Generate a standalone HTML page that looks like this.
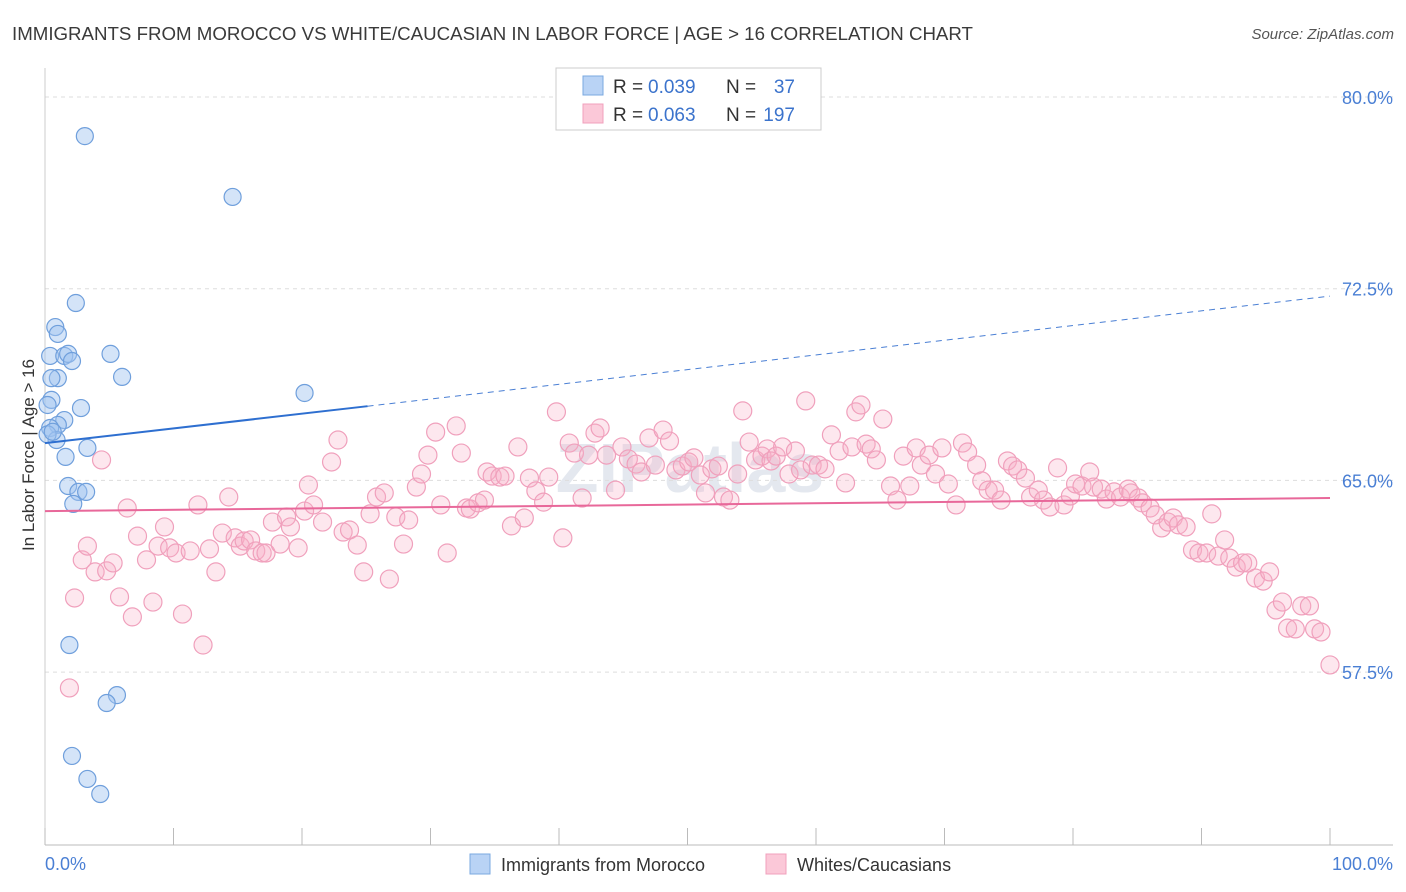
<!DOCTYPE html>
<html><head><meta charset="utf-8">
<style>
body{margin:0;background:#fff;font-family:"Liberation Sans",sans-serif;}
svg{display:block}
</style></head>
<body>
<svg id="chart" width="1406" height="892" xmlns="http://www.w3.org/2000/svg" font-family="Liberation Sans, sans-serif">
<text x="12" y="40" font-size="18.7" fill="#3a3a3a">IMMIGRANTS FROM MOROCCO VS WHITE/CAUCASIAN IN LABOR FORCE | AGE &gt; 16 CORRELATION CHART</text>
<text x="1394" y="39" font-size="15" fill="#555" font-style="italic" text-anchor="end">Source: ZipAtlas.com</text>
<text x="690" y="492" font-size="70" fill="#e4e8ef" text-anchor="middle" font-weight="bold">ZIPatlas</text>
<g id="grid"></g>
<g id="axes"></g>
<g id="marks"></g>
<text transform="translate(34,455) rotate(-90)" font-size="17" fill="#333" text-anchor="middle">In Labor Force | Age &gt; 16</text>
<g>
<rect x="556" y="68" width="265" height="62" fill="#fff" stroke="#ccc"/>
<rect x="583" y="76" width="20" height="19" fill="#b9d3f5" stroke="#7aa8e0"/>
<rect x="583" y="104" width="20" height="19" fill="#fbc8d8" stroke="#f0a0bc"/>
<text x="613" y="93" font-size="19" fill="#333">R =</text>
<text x="648" y="93" font-size="19" fill="#3b73cc">0.039</text>
<text x="726" y="93" font-size="19" fill="#333">N =</text>
<text x="795" y="93" font-size="19" fill="#3b73cc" text-anchor="end">37</text>
<text x="613" y="121" font-size="19" fill="#333">R =</text>
<text x="648" y="121" font-size="19" fill="#3b73cc">0.063</text>
<text x="726" y="121" font-size="19" fill="#333">N =</text>
<text x="795" y="121" font-size="19" fill="#3b73cc" text-anchor="end">197</text>
</g>
<g>
<rect x="470" y="854" width="20" height="20" fill="#b9d3f5" stroke="#7aa8e0"/>
<text x="501" y="871" font-size="18" fill="#333">Immigrants from Morocco</text>
<rect x="766" y="854" width="20" height="20" fill="#fbc8d8" stroke="#f0a0bc"/>
<text x="797" y="871" font-size="18" fill="#333">Whites/Caucasians</text>
</g>
</svg>
<script>
const yTicks=[57.5,65.0,72.5,80.0];
const xTickCount=10;
const blueX=[3.1,14.6,2.4,0.8,1.0,0.4,1.5,1.8,2.1,5.1,1.0,0.5,6.0,20.2,0.5,0.2,2.8,1.5,1.0,0.4,0.9,3.3,1.6,1.8,2.6,3.2,2.2,1.9,5.6,4.8,2.1,3.3,4.3,0.2,0.6];
const blueY=[78.47,76.09,71.94,71.0,70.73,69.87,69.87,69.95,69.67,69.95,69.0,69.0,69.05,68.42,68.15,67.95,67.83,67.36,67.17,67.05,66.58,66.27,65.92,64.78,64.55,64.55,64.08,58.56,56.6,56.29,54.22,53.32,52.73,66.8,66.9];
const pinkX=[1.9,2.3,4.4,2.9,3.3,3.9,4.8,5.3,5.8,6.4,6.8,7.2,7.9,8.4,8.8,9.3,9.7,10.2,10.7,11.3,11.9,12.3,12.8,13.3,13.8,14.3,14.8,15.2,15.5,16.0,16.4,16.9,17.2,17.7,18.3,18.8,19.1,19.7,20.2,20.5,20.9,21.6,22.3,22.8,23.2,23.7,24.3,24.8,25.3,25.8,26.4,26.8,27.3,27.9,28.3,28.9,29.3,29.8,30.4,30.8,31.3,32.0,32.4,32.8,33.1,33.7,34.2,34.4,34.8,35.4,35.8,36.3,36.8,37.3,37.7,38.2,38.8,39.2,39.8,40.3,40.8,41.2,41.8,42.3,42.8,43.2,43.7,44.4,44.9,45.4,46.0,46.4,47.0,47.5,48.1,48.6,49.1,49.6,50.1,50.5,51.0,51.4,51.9,52.4,52.8,53.3,53.9,54.3,54.8,55.3,55.8,56.2,56.5,56.9,57.4,57.9,58.4,58.8,59.2,59.7,60.2,60.7,61.2,61.8,62.3,62.8,63.1,63.5,63.9,64.3,64.7,65.2,65.8,66.3,66.8,67.3,67.8,68.2,68.8,69.3,69.8,70.3,70.9,71.4,71.8,72.5,72.9,73.4,73.9,74.4,74.9,75.3,75.7,76.3,76.7,77.3,77.7,78.2,78.8,79.3,79.8,80.2,80.7,81.3,81.6,82.2,82.6,83.2,83.7,84.3,84.5,85.1,85.4,86.0,86.4,86.9,87.4,87.8,88.2,88.8,89.3,89.8,90.4,90.8,91.3,91.8,92.2,92.7,93.2,93.6,94.2,94.8,95.3,95.8,96.3,96.7,97.3,97.8,98.4,98.8,99.3,100.0];
const pinkY=[56.88,60.40,65.80,61.89,62.43,61.42,61.46,61.77,60.44,63.92,59.66,62.82,61.89,60.24,62.43,63.18,62.36,62.16,59.77,62.24,64.04,58.56,62.32,61.42,62.94,64.35,62.75,62.43,62.63,62.67,62.24,62.16,62.16,63.37,62.51,63.57,63.18,62.36,63.80,64.82,64.04,63.37,65.72,66.58,62.98,63.06,62.47,61.42,63.69,64.35,64.51,61.14,63.57,62.51,63.45,64.74,65.25,65.99,66.89,64.04,62.16,67.13,66.07,63.92,63.88,64.12,64.23,65.33,65.17,65.13,65.17,63.22,66.31,63.53,65.09,64.59,64.15,65.13,67.68,62.75,66.46,66.07,64.31,65.99,66.85,67.05,65.99,64.62,66.31,65.84,65.64,65.33,66.66,65.60,66.97,66.54,65.41,65.56,65.72,65.88,65.21,64.51,65.45,65.56,64.35,64.23,65.25,67.72,66.50,65.80,65.95,66.23,65.76,65.95,66.31,65.25,66.15,65.41,68.11,65.60,65.60,65.45,66.78,66.15,64.90,66.31,67.68,67.95,66.42,66.23,65.80,67.40,64.78,64.23,65.95,64.78,66.27,65.60,65.99,65.25,66.27,64.86,64.04,66.46,66.11,65.60,64.98,64.62,64.62,64.23,65.76,65.56,65.41,65.09,64.35,64.62,64.23,63.96,65.49,64.04,64.39,64.86,64.78,65.33,64.74,64.66,64.27,64.55,64.35,64.66,64.51,64.31,64.12,63.92,63.65,63.14,63.37,63.53,63.26,63.18,62.28,62.16,62.16,63.69,62.04,62.67,61.96,61.61,61.77,61.77,61.18,61.06,61.42,59.93,60.24,59.22,59.19,60.09,60.09,59.19,59.07,57.78];
const blueTrend=[66.46,72.21];
const blueSolidEnd=25.1;
const pinkTrend=[63.80,64.31];

const NS='http://www.w3.org/2000/svg';
const X0=45,X1=1330,YTOP=97,PXPER=25.56;
function sx(p){return X0+(X1-X0)*p/100;}
function sy(v){return YTOP+(80-v)*PXPER;}
function mk(tag,attrs,parent){const e=document.createElementNS(NS,tag);for(const k in attrs)e.setAttribute(k,attrs[k]);parent.appendChild(e);return e;}
const grid=document.getElementById('grid'),axes=document.getElementById('axes'),marks=document.getElementById('marks');
yTicks.forEach(v=>{
  const l=mk('line',{x1:45,x2:1393,y1:sy(v),y2:sy(v),stroke:'#ddd','stroke-dasharray':'4,4'},grid);
  
  
  const t=mk('text',{x:1393,y:sy(v)+7,'font-size':18,fill:'#4a7fd4','text-anchor':'end'},axes);
  t.textContent=v.toFixed(1)+'%';
  
  
});
const ax=mk('line',{x1:45,x2:1393,y1:845,y2:845,stroke:'#bbb'},axes);


const ay=mk('line',{x1:45,x2:45,y1:68,y2:845,stroke:'#ccc'},axes);


for(let i=0;i<=xTickCount;i++){
  const tk=mk('line',{x1:sx(i*10),x2:sx(i*10),y1:828,y2:845,stroke:'#bbb'},axes);
  
  
}
const xl=mk('text',{x:45,y:870,'font-size':18,fill:'#4a7fd4'},axes);xl.textContent='0.0%';


const xr=mk('text',{x:1393,y:870,'font-size':18,fill:'#4a7fd4','text-anchor':'end'},axes);xr.textContent='100.0%';



pinkX.forEach((x,i)=>{
  const c=mk('circle',{cx:sx(x),cy:sy(pinkY[i]),r:9,fill:'rgba(248,175,200,0.3)',stroke:'#f0a0bc','stroke-width':1.2},marks);
  
  
});
blueX.forEach((x,i)=>{
  const c=mk('circle',{cx:sx(x),cy:sy(blueY[i]),r:8.5,fill:'rgba(160,195,240,0.45)',stroke:'#6f9fdc','stroke-width':1.2},marks);
  
  
});
function trendAt(t,p){return t[0]+(t[1]-t[0])*p/100;}
const pl=mk('line',{x1:sx(0),y1:sy(trendAt(pinkTrend,0)),x2:sx(100),y2:sy(trendAt(pinkTrend,100)),stroke:'#e8689a','stroke-width':2},marks);


const bl=mk('line',{x1:sx(0),y1:sy(trendAt(blueTrend,0)),x2:sx(blueSolidEnd),y2:sy(trendAt(blueTrend,blueSolidEnd)),stroke:'#2e6fd0','stroke-width':2},marks);


const bd=mk('line',{x1:sx(blueSolidEnd),y1:sy(trendAt(blueTrend,blueSolidEnd)),x2:sx(100),y2:sy(trendAt(blueTrend,100)),stroke:'#4a7fd4','stroke-width':1,'stroke-dasharray':'6,5'},marks);


</script>
</body></html>
